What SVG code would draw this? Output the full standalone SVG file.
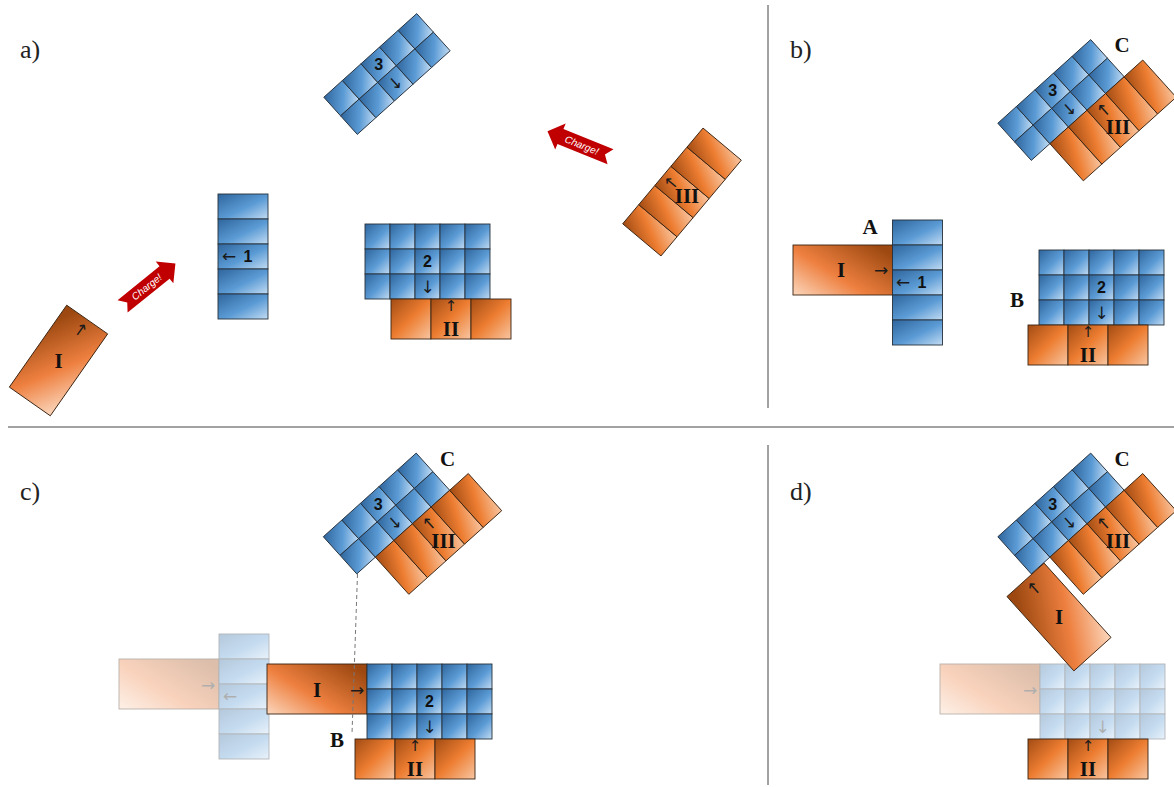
<svg xmlns="http://www.w3.org/2000/svg" xmlns:xlink="http://www.w3.org/1999/xlink" width="1174" height="787" viewBox="0 0 1174 787">
<style>
.cb{fill:url(#gB);stroke:#26313c;stroke-width:0.9}
.co{fill:url(#gO);stroke:#3a2412;stroke-width:0.9}
.oi{fill:url(#gI);stroke:#3a2412;stroke-width:0.9}
.ar{font-family:"DejaVu Sans",sans-serif;font-size:17px;fill:#1a1a1a;text-anchor:middle;dominant-baseline:central}
.au{font-family:"DejaVu Sans",sans-serif;font-size:15px;fill:#1a1a1a;text-anchor:middle;dominant-baseline:central}
.num{font-family:"Liberation Sans",sans-serif;font-weight:bold;font-size:16px;fill:#111;text-anchor:middle;dominant-baseline:central}
.rom{font-family:"Liberation Serif",serif;font-weight:bold;font-size:21px;fill:#111;text-anchor:middle;dominant-baseline:central}
.pl{font-family:"Liberation Serif",serif;font-size:26px;fill:#222}
.fade{opacity:0.35}
.chg{fill:#c00000}
.chgt{font-family:"Liberation Sans",sans-serif;font-style:italic;font-size:10px;fill:#fff;text-anchor:middle;dominant-baseline:central}
.div{stroke:#444;stroke-width:1}
.dash{stroke:#777;stroke-width:1;stroke-dasharray:4,3;fill:none}
</style>
<defs>
<linearGradient id="gB" x1="0" y1="0" x2="1" y2="1">
<stop offset="0" stop-color="#2f659c"/>
<stop offset="0.55" stop-color="#5b9bd5"/>
<stop offset="1" stop-color="#c3dcf3"/>
</linearGradient>
<linearGradient id="gO" x1="0" y1="0" x2="1" y2="1">
<stop offset="0" stop-color="#a24c14"/>
<stop offset="0.5" stop-color="#ed7d31"/>
<stop offset="1" stop-color="#f8c6a2"/>
</linearGradient>
<linearGradient id="gI" x1="0" y1="1" x2="1" y2="0.2">
<stop offset="0" stop-color="#fbd7bd"/>
<stop offset="0.45" stop-color="#ee8040"/>
<stop offset="1" stop-color="#9c4810"/>
</linearGradient>
<g id="blk1">
<rect class="cb" x="0" y="0" width="50" height="25"/>
<rect class="cb" x="0" y="25" width="50" height="25"/>
<rect class="cb" x="0" y="50" width="50" height="25"/>
<rect class="cb" x="0" y="75" width="50" height="25"/>
<rect class="cb" x="0" y="100" width="50" height="25"/>
</g>
<g id="blk2">
<rect class="cb" x="0" y="0" width="25" height="25"/><rect class="cb" x="25" y="0" width="25" height="25"/><rect class="cb" x="50" y="0" width="25" height="25"/><rect class="cb" x="75" y="0" width="25" height="25"/><rect class="cb" x="100" y="0" width="25" height="25"/>
<rect class="cb" x="0" y="25" width="25" height="25"/><rect class="cb" x="25" y="25" width="25" height="25"/><rect class="cb" x="50" y="25" width="25" height="25"/><rect class="cb" x="75" y="25" width="25" height="25"/><rect class="cb" x="100" y="25" width="25" height="25"/>
<rect class="cb" x="0" y="50" width="25" height="25"/><rect class="cb" x="25" y="50" width="25" height="25"/><rect class="cb" x="50" y="50" width="25" height="25"/><rect class="cb" x="75" y="50" width="25" height="25"/><rect class="cb" x="100" y="50" width="25" height="25"/>
</g>
<g id="blk3">
<rect class="cb" x="-62.5" y="-25" width="25" height="25"/><rect class="cb" x="-37.5" y="-25" width="25" height="25"/><rect class="cb" x="-12.5" y="-25" width="25" height="25"/><rect class="cb" x="12.5" y="-25" width="25" height="25"/><rect class="cb" x="37.5" y="-25" width="25" height="25"/>
<rect class="cb" x="-62.5" y="0" width="25" height="25"/><rect class="cb" x="-37.5" y="0" width="25" height="25"/><rect class="cb" x="-12.5" y="0" width="25" height="25"/><rect class="cb" x="12.5" y="0" width="25" height="25"/><rect class="cb" x="37.5" y="0" width="25" height="25"/>
</g>
<g id="blkIII">
<rect class="co" x="-62.5" y="-25" width="25" height="50"/><rect class="co" x="-37.5" y="-25" width="25" height="50"/><rect class="co" x="-12.5" y="-25" width="25" height="50"/><rect class="co" x="12.5" y="-25" width="25" height="50"/><rect class="co" x="37.5" y="-25" width="25" height="50"/>
</g>
<g id="blkII">
<rect class="co" x="0" y="0" width="40" height="40"/><rect class="co" x="40" y="0" width="40" height="40"/><rect class="co" x="80" y="0" width="40" height="40"/>
</g>
<g id="grpC">
<g transform="rotate(-42)">
<use xlink:href="#blk3"/>
<text class="ar" x="0" y="12.5">↓</text>
<use xlink:href="#blkIII" transform="translate(25,50)"/>
<text class="ar" x="25" y="36">↑</text>
</g>
<text class="num" x="-8.4" y="-9.3">3</text>
<text class="rom" x="57" y="27">III</text>
<text class="rom" x="61" y="-55">C</text>
</g>
</defs>

<!-- panel dividers -->
<line class="div" x1="768" y1="5" x2="768" y2="408"/>
<line class="div" x1="768" y1="445" x2="768" y2="785"/>
<line class="div" x1="8" y1="427" x2="1174" y2="427"/>

<text class="pl" x="20" y="58">a)</text>
<text class="pl" x="790" y="58">b)</text>
<text class="pl" x="20" y="500">c)</text>
<text class="pl" x="790" y="500">d)</text>

<!-- ===== panel a ===== -->
<g id="a-block3">
<g transform="translate(387,74) rotate(-42)">
<use xlink:href="#blk3"/>
<text class="ar" x="0" y="12.5">↓</text>
</g>
<text class="num" x="378.6" y="64.7">3</text>
</g>
<g id="a-block1">
<use xlink:href="#blk1" transform="translate(218,194)"/>
<text class="ar" x="229" y="256">←</text>
<text class="num" x="248" y="256.5">1</text>
</g>
<g id="a-blockI">
<g transform="translate(58.5,360.5) rotate(-55)">
<rect class="oi" x="-50" y="-25" width="100" height="50"/>
<text class="ar" x="38" y="0">→</text>
</g>
<text class="rom" x="58.5" y="360.5">I</text>
</g>
<g id="a-block2">
<use xlink:href="#blk2" transform="translate(365,224)"/>
<text class="num" x="427.5" y="261.5">2</text>
<text class="ar" x="427.5" y="286.5">↓</text>
</g>
<g id="a-blockII">
<use xlink:href="#blkII" transform="translate(391,299)"/>
<text class="au" x="451" y="306">↑</text>
<text class="rom" x="451" y="328.5">II</text>
</g>
<g id="a-blockIII">
<g transform="translate(682,192) rotate(-50)">
<use xlink:href="#blkIII"/>
<text class="ar" x="0" y="-14">↑</text>
</g>
<text class="rom" x="687" y="196">III</text>
</g>
<g id="a-charge1" transform="translate(149,285) rotate(-39)">
<path class="chg" d="M-34,-8 L20,-8 L20,-14 L34,0 L20,14 L20,8 L-34,8 L-28,0 Z"/>
<text class="chgt" x="-3" y="0">Charge!</text>
</g>
<g id="a-charge2" transform="translate(579,144) rotate(22)">
<path class="chg" d="M34,-8 L-20,-8 L-20,-14 L-34,0 L-20,14 L-20,8 L34,8 L28,0 Z"/>
<text class="chgt" x="3" y="0">Charge!</text>
</g>

<!-- ===== panel b ===== -->
<g id="b-blockI">
<rect class="oi" x="793" y="245" width="100" height="50"/>
<text class="ar" x="881" y="270">→</text>
<text class="rom" x="841" y="270">I</text>
</g>
<g id="b-block1">
<use xlink:href="#blk1" transform="translate(892.5,220)"/>
<text class="ar" x="903" y="282">←</text>
<text class="num" x="922" y="282.5">1</text>
</g>
<text class="rom" x="870" y="227">A</text>
<g id="b-block2">
<use xlink:href="#blk2" transform="translate(1039,250)"/>
<text class="num" x="1101.5" y="287.5">2</text>
<text class="ar" x="1101.5" y="312.5">↓</text>
</g>
<g id="b-blockII">
<use xlink:href="#blkII" transform="translate(1028,325)"/>
<text class="au" x="1088" y="332">↑</text>
<text class="rom" x="1088" y="354.5">II</text>
</g>
<text class="rom" x="1017" y="300">B</text>
<g id="b-groupC">
<use xlink:href="#grpC" transform="translate(1061,100)"/>
</g>

<!-- ===== panel c ===== -->
<g id="c-ghost" class="fade">
<rect class="oi" x="119" y="659" width="100" height="50"/>
<use xlink:href="#blk1" transform="translate(219,634)"/>
<text class="ar" x="208" y="684.5">→</text>
<text class="ar" x="230" y="696">←</text>
</g>
<g id="c-blockI">
<rect class="oi" x="267" y="664" width="100" height="50"/>
<text class="ar" x="357" y="689.5">→</text>
<text class="rom" x="317" y="690">I</text>
</g>
<g id="c-block2">
<use xlink:href="#blk2" transform="translate(367,664)"/>
<text class="num" x="429.5" y="701.5">2</text>
<text class="ar" x="429.5" y="726.5">↓</text>
</g>
<g id="c-blockII">
<use xlink:href="#blkII" transform="translate(355,739)"/>
<text class="au" x="415" y="746">↑</text>
<text class="rom" x="415" y="768.5">II</text>
</g>
<text class="rom" x="337" y="740">B</text>
<g id="c-groupC">
<use xlink:href="#grpC" transform="translate(386.5,513.5)"/>
</g>

<!-- ===== panel d ===== -->
<g id="d-ghost" class="fade">
<rect class="oi" x="940" y="664" width="100" height="50"/>
<use xlink:href="#blk2" transform="translate(1040,664)"/>
<text class="ar" x="1030" y="689.5">→</text>
<text class="ar" x="1102.5" y="726.5">↓</text>
</g>
<g id="d-blockII">
<use xlink:href="#blkII" transform="translate(1028,739)"/>
<text class="au" x="1088" y="746">↑</text>
<text class="rom" x="1088" y="768.5">II</text>
</g>
<g id="d-groupC">
<use xlink:href="#grpC" transform="translate(1061,513.5)"/>
</g>
<g id="d-blockI">
<g transform="translate(1059,617) rotate(-132)">
<rect class="oi" x="-50" y="-25" width="100" height="50"/>
<text class="ar" x="38" y="0">→</text>
</g>
<text class="rom" x="1059" y="617">I</text>
</g>

<!-- connectors -->
<g id="connectors">
<line class="dash" x1="357.5" y1="574" x2="352" y2="734"/>
</g>
</svg>
